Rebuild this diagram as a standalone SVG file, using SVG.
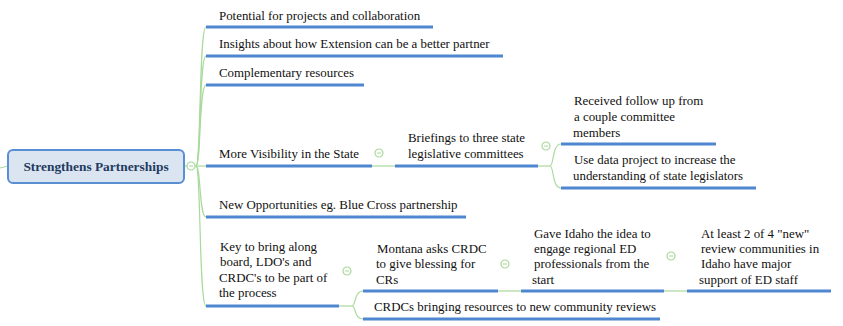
<svg xmlns="http://www.w3.org/2000/svg" width="843" height="326" viewBox="0 0 843 326">
<style>
  text { font-family: 'Liberation Serif', 'Times New Roman', serif; font-size: 12.9px; fill: #111; }
  .root-text { font-weight: bold; font-size: 13.4px; fill: #1f3a5f; }
  .ul { stroke: #4f86d0; stroke-width: 3; fill: none; }
  .conn { stroke: #a9d99b; stroke-width: 1.2; fill: none; }
  .tog { fill: #fff; stroke: #a9d99b; stroke-width: 1.2; }
  .tog-m { stroke: #a9d99b; stroke-width: 1; }
</style>
<defs>
  <g id="toggle">
    <circle class="tog" cx="0" cy="0" r="4"/>
    <line class="tog-m" x1="-2" y1="0" x2="2" y2="0"/>
  </g>
</defs>

<g id="connectors">
  <path class="conn" d="M0,168 L8,166"/>
  <path class="conn" d="M184,166 L196,166"/>
  <path class="conn" d="M196,166 C201,166 199,27 206,27"/>
  <path class="conn" d="M196,166 C201,166 199,56 206,56"/>
  <path class="conn" d="M196,166 C201,166 199,85 206,85"/>
  <path class="conn" d="M196,166 L206,166"/>
  <path class="conn" d="M196,166 C201,166 199,217 206,217"/>
  <path class="conn" d="M196,166 C201,166 199,306 206,306"/>
  <path class="conn" d="M372,166 L395,166"/>
  <path class="conn" d="M538,166 L550,166"/>
  <path class="conn" d="M550,166 C554,166 552,144 561,144"/>
  <path class="conn" d="M550,166 C554,166 552,188 561,188"/>
  <path class="conn" d="M339,306 L352,306"/>
  <path class="conn" d="M352,306 C356,306 354,291 363,291"/>
  <path class="conn" d="M352,306 C356,306 354,319 363,319"/>
  <path class="conn" d="M498,291 L521,291"/>
  <path class="conn" d="M664,291 L687,291"/>
</g>

<g id="root">
  <rect x="8" y="150" width="176" height="33" rx="5" fill="#dbe5f2" stroke="#5a8ed3" stroke-width="2"/>
  <text class="root-text" x="96" y="171" text-anchor="middle">Strengthens Partnerships</text>
  <use href="#toggle" x="191" y="166"/>
</g>

<g id="n-potential">
  <text x="219" y="20">Potential for projects and collaboration</text>
  <line class="ul" x1="206" y1="27" x2="433" y2="27"/>
</g>
<g id="n-insights">
  <text x="219" y="48">Insights about how Extension can be a better partner</text>
  <line class="ul" x1="206" y1="56" x2="503" y2="56"/>
</g>
<g id="n-complementary">
  <text x="219" y="77">Complementary resources</text>
  <line class="ul" x1="206" y1="85" x2="364" y2="85"/>
</g>
<g id="n-visibility">
  <text x="219" y="158">More Visibility in the State</text>
  <line class="ul" x1="206" y1="166" x2="372" y2="166"/>
  <use href="#toggle" x="379" y="153"/>
</g>
<g id="n-briefings">
  <text x="408" y="142">Briefings to three state</text>
  <text x="408" y="158">legislative committees</text>
  <line class="ul" x1="395" y1="166" x2="538" y2="166"/>
  <use href="#toggle" x="546" y="146"/>
</g>
<g id="n-followup">
  <text x="574" y="105">Received follow up from</text>
  <text x="574" y="121">a couple committee</text>
  <text x="573" y="137">members</text>
  <line class="ul" x1="561" y1="144" x2="716" y2="144"/>
</g>
<g id="n-dataproject">
  <text x="574" y="164">Use data project to increase the</text>
  <text x="573" y="180">understanding of state legislators</text>
  <line class="ul" x1="561" y1="188" x2="756" y2="188"/>
</g>
<g id="n-opportunities">
  <text x="219" y="209">New Opportunities eg. Blue Cross partnership</text>
  <line class="ul" x1="206" y1="217" x2="466" y2="217"/>
</g>
<g id="n-key">
  <text x="220" y="251">Key to bring along</text>
  <text x="220" y="266">board, LDO's and</text>
  <text x="219" y="282">CRDC's to be part of</text>
  <text x="219" y="297">the process</text>
  <line class="ul" x1="206" y1="306" x2="339" y2="306"/>
  <use href="#toggle" x="347" y="271"/>
</g>
<g id="n-montana">
  <text x="377" y="253">Montana asks CRDC</text>
  <text x="376" y="268">to give blessing for</text>
  <text x="376" y="284">CRs</text>
  <line class="ul" x1="363" y1="291" x2="498" y2="291"/>
  <use href="#toggle" x="505" y="264"/>
</g>
<g id="n-idaho">
  <text x="534" y="238">Gave Idaho the idea to</text>
  <text x="534" y="253">engage regional ED</text>
  <text x="534" y="268">professionals from the</text>
  <text x="532" y="284">start</text>
  <line class="ul" x1="521" y1="291" x2="664" y2="291"/>
  <use href="#toggle" x="671" y="256"/>
</g>
<g id="n-atleast">
  <text x="701" y="238">At least 2 of 4 "new"</text>
  <text x="701" y="253">review communities in</text>
  <text x="701" y="268">Idaho have major</text>
  <text x="699" y="284">support of ED staff</text>
  <line class="ul" x1="687" y1="291" x2="831" y2="291"/>
</g>
<g id="n-crdcs">
  <text x="374" y="311">CRDCs bringing resources to new community reviews</text>
  <line class="ul" x1="363" y1="319" x2="660" y2="319"/>
</g>
</svg>
